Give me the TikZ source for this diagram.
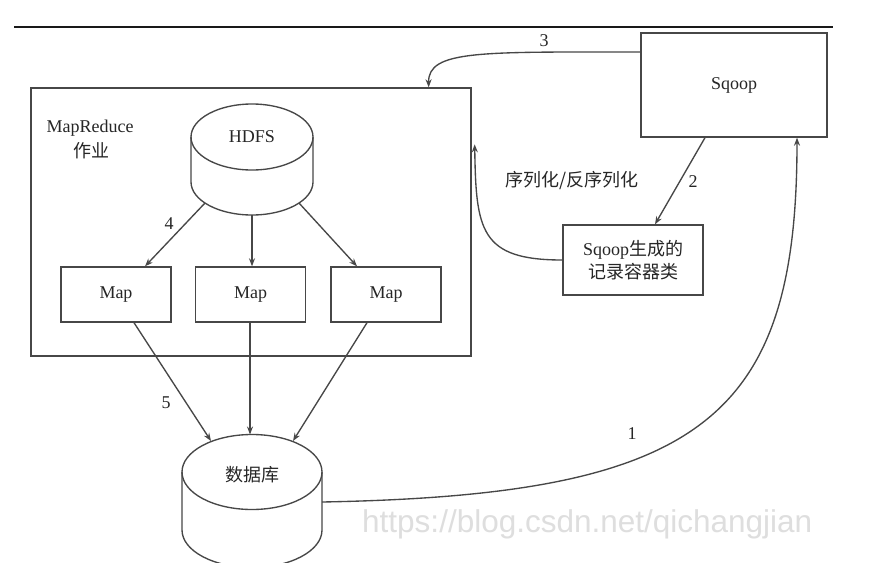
\documentclass[tikz,border=0pt]{standalone}
\usepackage{fontspec}
\setmainfont{Liberation Serif}
\newfontfamily\cjk{Noto Sans CJK SC}
\newfontfamily\wmfont{Liberation Sans}
\usetikzlibrary{arrows.meta,calc}
\begin{document}
\begin{tikzpicture}[x=1pt,y=-1pt,
  ln/.style={line width=1.35pt, draw=black!72},
  arr/.style={ln, -{Stealth[length=8pt,width=6pt]}},
  box/.style={ln, rectangle, inner sep=0pt, text=black!85, font=\fontsize{18}{21}\selectfont},
  lbl/.style={text=black!85, font=\fontsize{18}{21}\selectfont, inner sep=0pt},
]
\useasboundingbox[fill=white] (0,0) rectangle (896,576);
% watermark
\begin{scope}
\clip (0,0) rectangle (812,576);
\node[text=black!13, font=\wmfont\fontsize{31.5}{32}\selectfont, anchor=west, inner sep=0pt] (wm) at (362,524) {https://blog.csdn.net/qichangjian};
\end{scope}
% top rule
\coordinate (ruleL) at (14,27);
\coordinate (ruleR) at (833,27);
\draw[line width=2pt, black!90] (ruleL) -- (ruleR);

% MapReduce job box
\node[box, minimum width=440pt, minimum height=268pt] (mr) at (251,222) {};
\node[lbl] (mrlabel) at (90,128) {MapReduce};
\node[lbl] (mrlabel2) at (91,151) {\cjk 作业};

% HDFS cylinder
\draw[ln] (252,137) ellipse [x radius=61, y radius=33];
\draw[ln] (191,137) -- (191,182) .. controls (191,200.2) and (218.3,215) .. (252,215) .. controls (285.7,215) and (313,200.2) .. (313,182) -- (313,137);
\node[lbl] (hdfs) at (252,137) {HDFS};

% Map boxes
\node[box, minimum width=110pt, minimum height=55pt] (map1) at (116,294.5) {Map};
\node[box, minimum width=110pt, minimum height=55pt] (map2) at (250.5,294.5) {Map};
\node[box, minimum width=110pt, minimum height=55pt] (map3) at (386,294.5) {Map};

% database cylinder
\begin{scope}
\clip (0,0) rectangle (896,562);
\draw[ln] (252,472) ellipse [x radius=70, y radius=37.5];
\draw[ln] (182,472) -- (182,530) .. controls (182,550.7) and (213.3,567.5) .. (252,567.5) .. controls (290.7,567.5) and (322,550.7) .. (322,530) -- (322,472);
\end{scope}
\node[lbl] (db) at (252,475) {\cjk 数据库};

% Sqoop boxes
\node[box, minimum width=186pt, minimum height=104pt] (sqoop) at (734,85) {Sqoop};
\node[box, minimum width=140pt, minimum height=70pt, align=center, font=\fontsize{18}{23}\selectfont] (rec) at (633,260) {Sqoop{\cjk 生成的}\\{\cjk 记录容器类}};

% anchor points on cylinders
\coordinate (hA) at (205,203);
\coordinate (hB) at (252,215);
\coordinate (hC) at (299,203);
\coordinate (dA) at (211,441);
\coordinate (dB) at (250,434.5);
\coordinate (dC) at (293,441);
\coordinate (dR) at (322,502);

% HDFS -> Map
\draw[arr] (hA) -- ($(map1.north)+(29,0)$);
\draw[arr] (hB) -- ($(map2.north)+(1.5,0)$);
\draw[arr] (hC) -- ($(map3.north)+(-29,0)$);
\node[lbl] (l4) at (169,224) {4};

% Map -> DB
\draw[arr] ($(map1.south)+(18,0)$) -- (dA);
\draw[arr] ($(map2.south)+(-0.5,0)$) -- (dB);
\draw[arr] ($(map3.south)+(-19,0)$) -- (dC);
\node[lbl] (l5) at (166,403) {5};

% 1: DB -> Sqoop
\draw[arr] (dR) .. controls (700,495) and (797,420) .. ($(sqoop.south)+(63,0)$);
\node[lbl] (l1) at (632,434) {1};

% 2: Sqoop -> record class
\draw[arr] ($(sqoop.south)+(-29,0)$) -- ($(rec.north)+(22,0)$);
\node[lbl] (l2) at (693,182) {2};

% 3: Sqoop -> MapReduce
\draw[arr] ($(sqoop.west)+(0,-33)$) .. controls (480,52) and (428,50) .. ($(mr.north east)+(-43,0)$);
\node[lbl] (l3) at (544,41) {3};

% serialization
\draw[arr] (rec.west) .. controls (480,260) and (476,230) .. ($(mr.north east)+(3,57)$);
\node[lbl] (lser) at (572,181) {\cjk 序列化/反序列化};
\end{tikzpicture}
\end{document}
